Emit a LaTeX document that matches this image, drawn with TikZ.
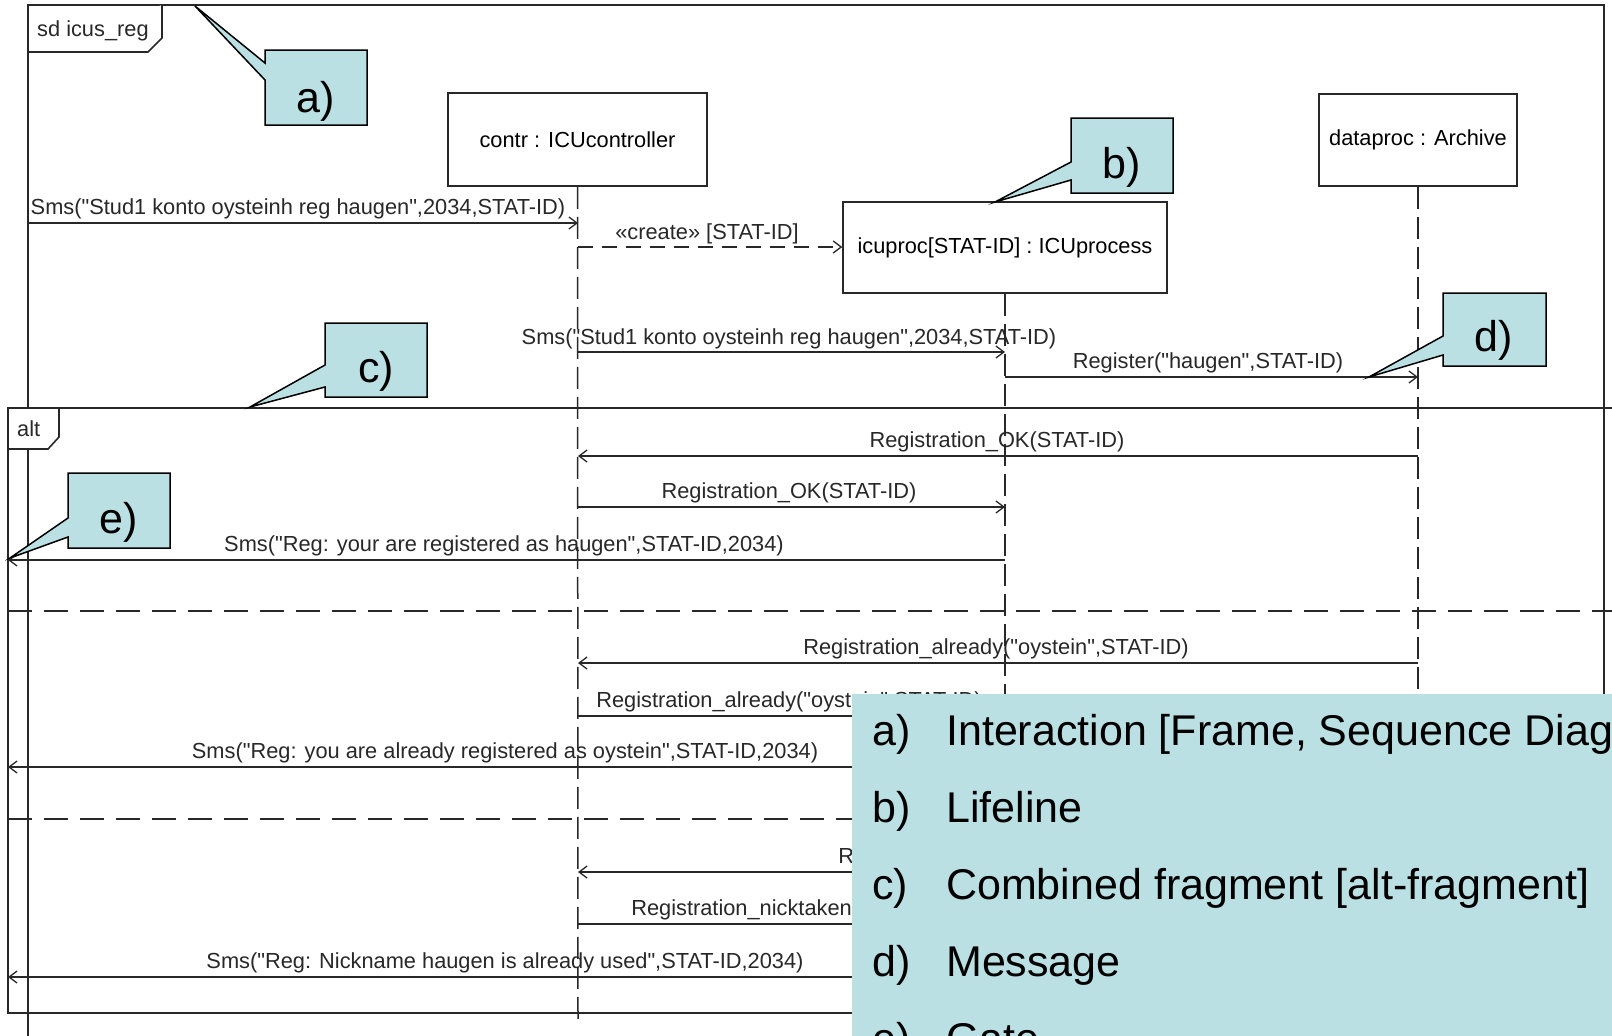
\documentclass[tikz,border=0pt]{standalone}
\usepackage{fontspec}
\setmainfont{Liberation Sans}[Ligatures=TeXOff]
\usetikzlibrary{arrows.meta}
\definecolor{callout}{RGB}{187,224,227}
\definecolor{ink}{RGB}{40,40,40}
\newcommand{\dfont}{\fontsize{21.8}{24}\selectfont}
\newcommand{\bfontx}{\fontsize{43}{50}\selectfont}
\begin{document}
\begin{tikzpicture}[x=1pt,y=-1pt,
  frm/.style={draw=ink, line width=1.6pt},
  lifebox/.style={draw=ink, line width=1.5pt, inner sep=0pt, font=\dfont, fill=white},
  life/.style={draw=ink, line width=1.5pt, dash pattern=on 22pt off 8pt},
  sep/.style={draw=ink, line width=1.6pt, dash pattern=on 24pt off 12pt},
  msg/.style={draw=ink, line width=1.5pt, -{Straight Barb[length=8pt,width=12pt,line width=1.3pt]}},
  crt/.style={msg, dash pattern=on 15pt off 9pt},
  lbl/.style={anchor=base, inner sep=0pt, font=\dfont, text=ink},
  call/.style={fill=callout, draw=black, line width=1.5pt, line join=miter},
  calltxt/.style={anchor=base, inner sep=0pt, font=\bfontx},
  legtxt/.style={anchor=base west, inner sep=0pt, font=\bfontx}
]
\useasboundingbox (0,0) rectangle (1612,1036);
\clip (0,0) rectangle (1612,1036);
\fill[white] (0,0) rectangle (1612,1036);

% sd frame
\draw[frm] (28,1040) -- (28,5) -- (1604,5) -- (1604,1040);
\draw[frm, fill=white] (28,52) -- (148,52) -- (162,38) -- (162,5);
\node[anchor=base west, inner sep=0pt, font=\dfont, text=ink] (sdlbl) at (37,36) {sd icus\_reg};

% lifeline heads
\node[lifebox, minimum width=259pt, minimum height=93pt] (contr) at (577.5,139.5) {contr : ICUcontroller};
\node[lifebox, minimum width=198pt, minimum height=92pt] (data) at (1418,140) {dataproc : Archive};
\node[lifebox, minimum width=324pt, minimum height=91pt] (icu) at (1005,247.5) {icuproc[STAT-ID] : ICUprocess};

% lifelines
\coordinate (contrEnd) at (578,1022);
\coordinate (icuEnd) at (1005,1022);
\coordinate (dataEnd) at (1418,1022);
\draw[life] (contr.south) -- (contrEnd);
\draw[life] (icu.south) -- (icuEnd);
\draw[life] (data.south) -- (dataEnd);

% alt fragment
\draw[frm] (1620,408) -- (8,408) -- (8,1013) -- (1620,1013);
\draw[frm, fill=white] (8,408) -- (8,449) -- (48,449) -- (59,437) -- (59,408) -- cycle;
\node[anchor=base west, inner sep=0pt, font=\dfont, text=ink] (altlbl) at (17,436) {alt};
\coordinate (sepA1) at (8,611);   \coordinate (sepA2) at (1620,611);
\coordinate (sepB1) at (8,819);   \coordinate (sepB2) at (1620,819);
\draw[sep] (sepA1) -- (sepA2);
\draw[sep] (sepB1) -- (sepB2);

% message end points
\coordinate (g1) at (28,223);   \coordinate (c1) at (578,223);
\coordinate (c2) at (578,247);
\coordinate (c3) at (578,352);  \coordinate (i3) at (1005,352);
\coordinate (i4) at (1005,377); \coordinate (d4) at (1418,377);
\coordinate (d5) at (1418,456); \coordinate (c5) at (578,456);
\coordinate (c6) at (578,507);  \coordinate (i6) at (1005,507);
\coordinate (i7) at (1005,560); \coordinate (g7) at (8,560);
\coordinate (d8) at (1418,663); \coordinate (c8) at (578,663);
\coordinate (c9) at (578,716);  \coordinate (i9) at (1005,716);
\coordinate (i10) at (1005,767); \coordinate (g10) at (8,767);
\coordinate (d11) at (1418,872); \coordinate (c11) at (578,872);
\coordinate (c12) at (578,924);  \coordinate (i12) at (1005,924);
\coordinate (i13) at (1005,977); \coordinate (g13) at (8,977);

% messages
\draw[msg] (g1) -- (c1);
\node[lbl] (l1) at (298,214) {Sms("Stud1 konto oysteinh reg haugen",2034,STAT-ID)};
\draw[crt] (c2) -- (icu.west |- c2);
\node[lbl] (l2) at (707,239) {«create» [STAT-ID]};
\draw[msg] (c3) -- (i3);
\node[lbl] (l3) at (789,344) {Sms("Stud1 konto oysteinh reg haugen",2034,STAT-ID)};
\draw[msg] (i4) -- (d4);
\node[lbl] (l4) at (1208,368) {Register("haugen",STAT-ID)};
\draw[msg] (d5) -- (c5);
\node[lbl] (l5) at (997,447) {Registration\_OK(STAT-ID)};
\draw[msg] (c6) -- (i6);
\node[lbl] (l6) at (789,498) {Registration\_OK(STAT-ID)};
\draw[msg] (i7) -- (g7);
\node[lbl] (l7) at (504,551) {Sms("Reg: your are registered as haugen",STAT-ID,2034)};
\draw[msg] (d8) -- (c8);
\node[lbl] (l8) at (996,654) {Registration\_already("oystein",STAT-ID)};
\draw[msg] (c9) -- (i9);
\node[lbl] (l9) at (789,707) {Registration\_already("oystein",STAT-ID)};
\draw[msg] (i10) -- (g10);
\node[lbl] (l10) at (505,758) {Sms("Reg: you are already registered as oystein",STAT-ID,2034)};
\draw[msg] (d11) -- (c11);
\node[lbl] (l11) at (996,863) {Registration\_nicktaken(STAT-ID)};
\draw[msg] (c12) -- (i12);
\node[lbl] (l12) at (789,915) {Registration\_nicktaken(STAT-ID)};
\draw[msg] (i13) -- (g13);
\node[lbl] (l13) at (505,968) {Sms("Reg: Nickname haugen is already used",STAT-ID,2034)};

% callouts
\draw[call] (265,50) -- (367,50) -- (367,125) -- (265,125) -- (265,80) -- (195,6) -- (265,63) -- cycle;
\node[calltxt] (ca) at (316,112) {a)};
\draw[call] (1071,118) -- (1173,118) -- (1173,193) -- (1071,193) -- (1071,180) -- (995,202) -- (1071,162) -- cycle;
\node[calltxt] (cb) at (1122,178) {b)};
\draw[call] (325,323) -- (427,323) -- (427,397) -- (325,397) -- (325,387) -- (250,407) -- (325,365) -- cycle;
\node[calltxt] (cc) at (376,382) {c)};
\draw[call] (1443,293) -- (1546,293) -- (1546,366) -- (1443,366) -- (1443,355) -- (1369,377) -- (1443,336) -- cycle;
\node[calltxt] (cd) at (1494,351) {d)};
\draw[call] (68,473) -- (170,473) -- (170,548) -- (68,548) -- (68,537) -- (10,558) -- (68,518) -- cycle;
\node[calltxt] (ce) at (119,533) {e)};

% legend
\fill[callout] (852,694) rectangle (1620,1040);
\node[legtxt] (la) at (872,745) {a)};
\node[legtxt] (ta) at (946,745) {Interaction [Frame, Sequence Diagram]};
\node[legtxt] (lb) at (872,822) {b)};
\node[legtxt] (tb) at (946,822) {Lifeline};
\node[legtxt] (lc) at (872,899) {c)};
\node[legtxt] (tc) at (946,899) {Combined fragment [alt-fragment]};
\node[legtxt] (ld) at (872,976) {d)};
\node[legtxt] (td) at (946,976) {Message};
\node[legtxt] (le) at (872,1053) {e)};
\node[legtxt] (te) at (946,1053) {Gate};
\end{tikzpicture}
\end{document}
